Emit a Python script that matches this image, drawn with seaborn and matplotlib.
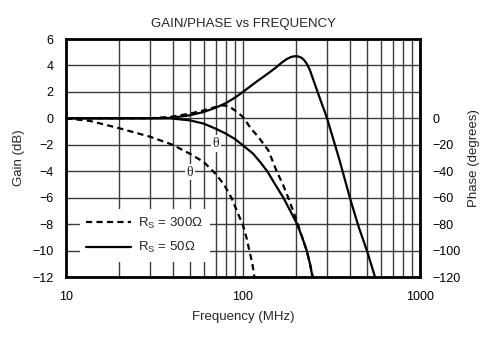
import numpy as np
import pandas as pd
import matplotlib
matplotlib.use("Agg")
import matplotlib.pyplot as plt
from matplotlib.lines import Line2D
import seaborn as sns

# ---- data ----
gain50_f = [10, 20, 30, 38.6, 50, 60, 70, 80, 90, 100, 110, 120, 130, 142, 155, 165, 176,
            186, 196, 205, 213, 221, 229, 239, 246, 254, 263, 272, 281, 290, 300,
            350, 403, 450, 504, 557]
gain50_db = [0, 0, 0.01, 0.03, 0.23, 0.48, 0.8, 1.15, 1.56, 2.0, 2.42, 2.8, 3.13, 3.5,
             3.89, 4.2, 4.47, 4.63, 4.7, 4.68, 4.6, 4.42, 4.14, 3.64, 3.15, 2.63, 2.05,
             1.5, 0.98, 0.48, -0.1, -3.1, -6.08, -8.2, -10.1, -12]

gain300_f = [10, 30, 38.6, 50, 60, 70, 77, 83, 90, 95, 100, 111, 122, 130, 139, 155, 168,
             180, 192, 204, 216, 229, 239, 248]
gain300_db = [0, 0.01, 0.1, 0.35, 0.6, 0.86, 0.98, 0.92, 0.6, 0.35, 0.1, -0.78, -1.4,
              -1.9, -2.42, -4.0, -5.0, -6.0, -7.0, -8.0, -9.0, -10.0, -11.0, -12]

phase50_f = [10, 30, 38.6, 50, 60, 70, 80, 90, 100, 114, 125, 137, 152, 169, 185, 202,
             216, 229, 239, 247]
phase50_db = [0, 0, 0, -0.15, -0.4, -0.78, -1.16, -1.56, -2.05, -2.67, -3.3, -4.0, -5.0,
              -6.0, -7.0, -8.0, -9.0, -10.0, -11.0, -12]

phase300_f = [10, 13.7, 20, 30, 40, 50, 60, 70, 78, 86, 93, 100, 105, 109, 113, 116]
phase300_db = [0, -0.2, -0.75, -1.4, -2.0, -2.67, -3.3, -4.2, -5.0, -6.0, -7.1, -8.1,
               -9.1, -10.1, -11.0, -12]

gain_ticks = [6, 4, 2, 0, -2, -4, -6, -8, -10, -12]
phase_ticks = [0, -20, -40, -60, -80, -100, -120]
freq_ticks = [10, 100, 1000]
minor_freqs = [20, 30, 40, 50, 60, 70, 80, 90, 200, 300, 400, 500, 600, 700, 800, 900]

legend_labels = ["R$_\\mathregular{S}$ = 300\u03a9", "R$_\\mathregular{S}$ = 50\u03a9"]

# ---- build table ----
frames = []
for name, f, g in [("g50", gain50_f, gain50_db), ("g300", gain300_f, gain300_db),
                   ("p50", phase50_f, phase50_db), ("p300", phase300_f, phase300_db)]:
    frames.append(pd.DataFrame({"freq": f, "val": g, "curve": name}))
df = pd.concat(frames, ignore_index=True)

sns.set_theme(style="white")
plt.rcParams["font.family"] = ["Liberation Sans", "DejaVu Sans"]
plt.rcParams["mathtext.fontset"] = "custom"
plt.rcParams["mathtext.rm"] = "Liberation Sans"

fig = plt.figure(figsize=(4.97, 3.39), dpi=100)
ax = fig.add_axes([66 / 497, 62 / 339, 354 / 497, 238 / 339])

styles = {"g50": "-", "p50": "-", "g300": "--", "p300": "--"}
for name in ["g50", "g300", "p50", "p300"]:
    sub = df[df["curve"] == name]
    sns.lineplot(data=sub, x="freq", y="val", ax=ax, color="black", lw=1.6,
                 linestyle=styles[name], estimator=None, sort=True, zorder=3)
for line in ax.get_lines():
    if line.get_linestyle() == "--":
        line.set_dashes((2.8, 1.9))
    line.set_solid_joinstyle("round")

ax.set_xscale("log")
ax.set_xlim(10, 1000)
ax.set_ylim(-12, 6)
ax.set_xticks(freq_ticks)
ax.set_xticklabels([str(v) for v in freq_ticks])
ax.set_xticks(minor_freqs, minor=True)
ax.set_xticklabels([], minor=True)
ax.set_yticks(gain_ticks)
ax.set_yticklabels([str(v).replace("-", "\u2212") for v in gain_ticks])
ax.tick_params(axis="both", which="both", length=0, labelsize=9, colors="black")
ax.tick_params(axis="x", pad=10)
ax.tick_params(axis="y", pad=9)
ax.grid(True, which="both", color="#3c3c3c", lw=1.0)
ax.set_axisbelow(True)
for s in ax.spines.values():
    s.set_linewidth(2.0)
    s.set_color("black")

ax.set_xlabel("Frequency (MHz)", fontsize=9.5, labelpad=6)
ax.set_ylabel("Gain (dB)", fontsize=9.5, labelpad=5)
ax.set_title("GAIN/PHASE vs FREQUENCY", fontsize=9.5, pad=9)

ax2 = ax.twinx()
ax2.set_ylim(-120, 60)
ax2.set_yticks(phase_ticks)
ax2.set_yticklabels([str(v).replace("-", "\u2212") for v in phase_ticks])
ax2.tick_params(axis="y", length=0, labelsize=9, pad=9, colors="black")
ax2.set_ylabel("Phase (degrees)", fontsize=9.5, labelpad=5)
for s in ax2.spines.values():
    s.set_visible(False)
ax2.grid(False)

# theta labels
for fx, gy in [(70.4, -1.9), (50, -4.07)]:
    ax.text(fx, gy, "\u03b8", ha="center", va="center", fontsize=10,
            family=["Liberation Serif", "DejaVu Serif"], zorder=4,
            bbox=dict(facecolor="white", edgecolor="none", pad=1.2))

handles = [Line2D([], [], color="black", lw=1.6, linestyle=(0, (2.8, 1.9))),
           Line2D([], [], color="black", lw=1.6, linestyle="-")]
leg = ax.legend(handles, legend_labels, loc="lower left", bbox_to_anchor=(0.02, 0.035),
                frameon=True, fontsize=9.5, handlelength=3.4, handletextpad=0.55,
                labelspacing=0.7, borderpad=0.5, fancybox=False)
leg.get_frame().set_facecolor("white")
leg.get_frame().set_edgecolor("none")
leg.get_frame().set_alpha(1)

fig.savefig("out.png", dpi=100)
